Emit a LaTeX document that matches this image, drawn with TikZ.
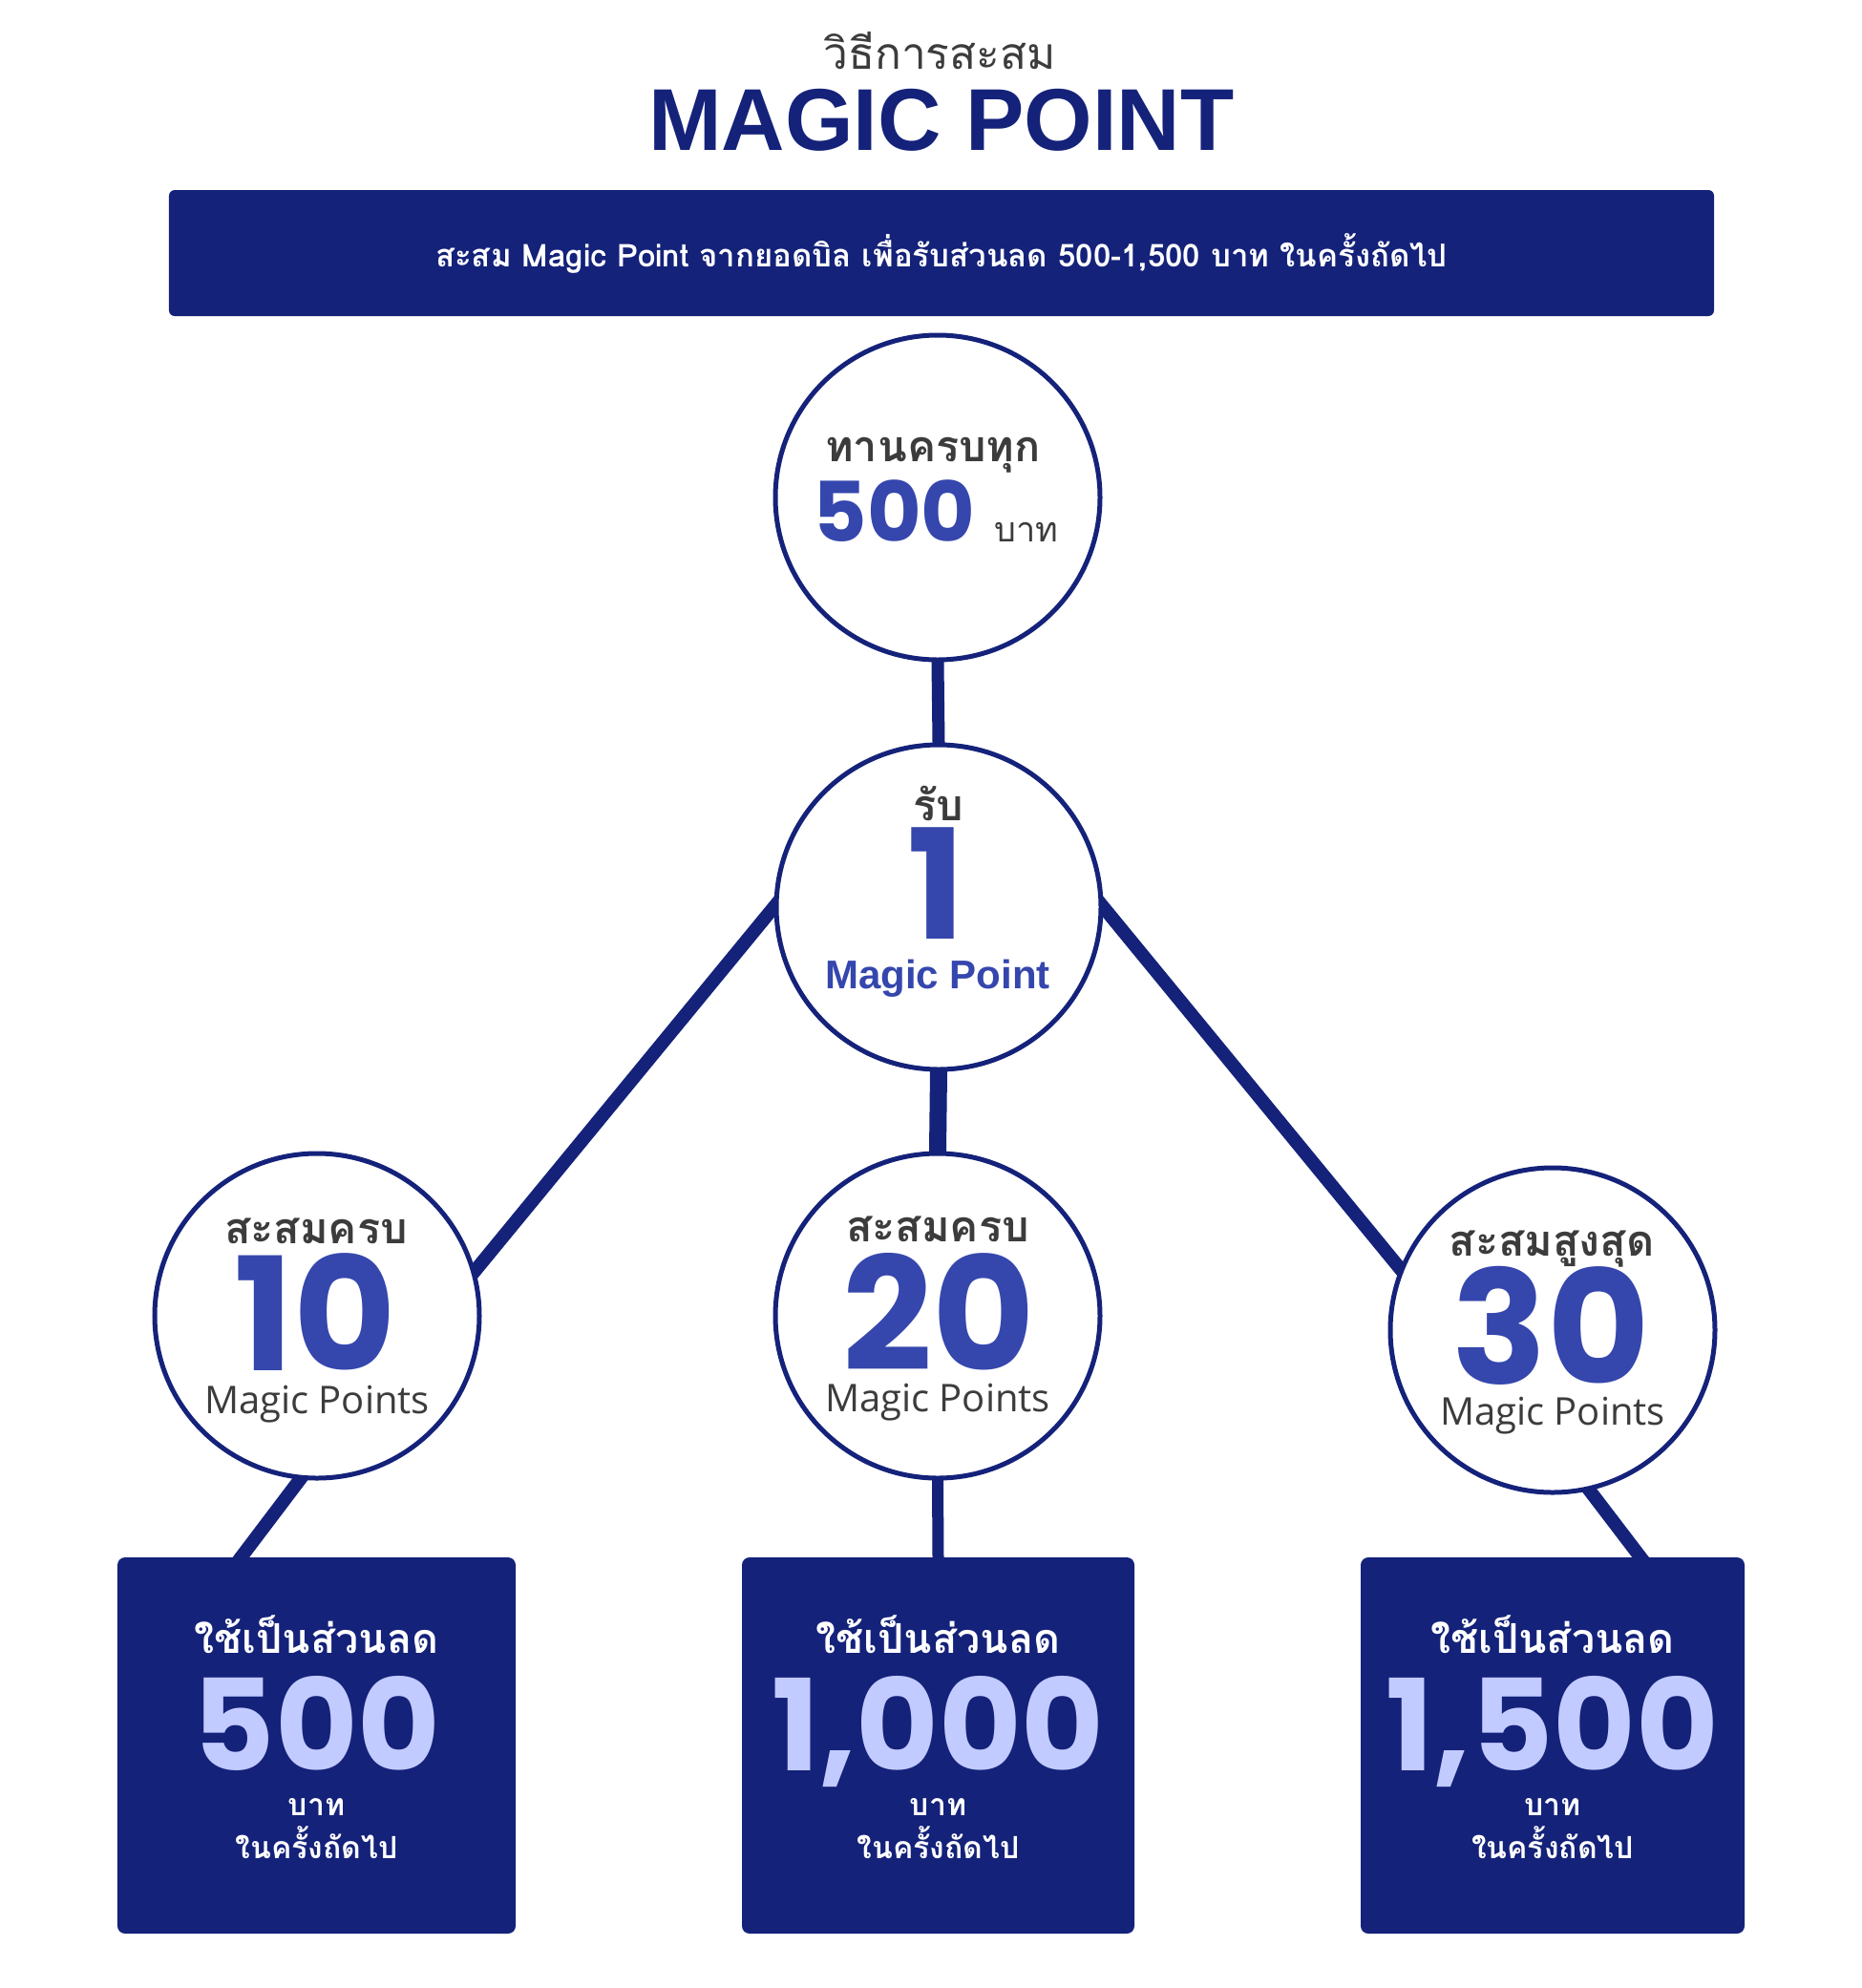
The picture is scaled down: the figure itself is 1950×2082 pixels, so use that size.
\documentclass[tikz,border=0pt]{standalone}
\usepackage{fontspec}
\usepackage{xcolor}
\setmainfont{Liberation Sans}
\newfontfamily\thaifont[Script=Thai]{Loma}
\newfontfamily\numfont{Poppins}
\newfontfamily\ptsfont{Open Sans}
\usetikzlibrary{backgrounds}
\definecolor{navy}{HTML}{14227A}
\definecolor{numblue}{HTML}{3546AD}
\definecolor{lavender}{HTML}{C2CBFF}
\definecolor{inkgrey}{HTML}{3C3C3C}
\tikzset{
  stage/.style={circle, draw=navy, line width=5bp, fill=white, minimum size=340bp, inner sep=0pt},
  reward/.style={rectangle, fill=navy, rounded corners=8bp, minimum height=394bp, inner sep=0pt},
  link/.style={draw=navy, line width=14bp},
  txt/.style={anchor=base, inner sep=0pt},
  thaihead/.style={txt, text=inkgrey, font=\thaifont\bfseries\fontsize{45bp}{50bp}\selectfont},
  bignum/.style={txt, text=numblue, text depth=0bp, font=\numfont\bfseries\fontsize{165bp}{170bp}\selectfont},
  points/.style={txt, text=inkgrey, text height=30bp, font=\ptsfont\fontsize{40bp}{44bp}\selectfont},
  boxhead/.style={txt, text=white, font=\thaifont\bfseries\fontsize{43bp}{48bp}\selectfont},
  boxnum/.style={txt, text=lavender, text depth=0bp, font=\numfont\bfseries\fontsize{133bp}{138bp}\selectfont},
  boxsmall/.style={txt, text=white, font=\thaifont\bfseries\fontsize{32bp}{36bp}\selectfont},
}
\begin{document}
\begin{tikzpicture}[x=1bp, y=-1bp]
  \useasboundingbox (0,0) rectangle (1950,2082);
  % heading
  \node[txt, text=inkgrey, font=\thaifont\fontsize{46bp}{50bp}\selectfont] (subtitle) at (984,72) {วิธีการสะสม};
  \node[txt, text=navy, font=\bfseries\fontsize{92bp}{96bp}\selectfont] (title) at (986,157) {MAGIC POINT};
  \node[rectangle, fill=navy, rounded corners=6bp, minimum width=1618bp, minimum height=132bp,
        text=white, font=\thaifont\bfseries\fontsize{33bp}{37bp}\selectfont] (banner) at (986,265)
        {สะสม Magic Point จากยอดบิล เพื่อรับส่วนลด 500-1,500 บาท ในครั้งถัดไป};
  % circles
  \node[stage] (spend) at (982,521) {};
  \node[stage] (get) at (983,950) {};
  \node[stage] (ten) at (332,1378) {};
  \node[stage] (twenty) at (982,1378) {};
  \node[stage] (thirty) at (1626,1393) {};
  % reward boxes
  \node[reward, minimum width=417bp] (save500) at (331.5,1828) {};
  \node[reward, minimum width=411bp] (save1000) at (982.5,1828) {};
  \node[reward, minimum width=402bp] (save1500) at (1626,1828) {};
  % links
  \begin{scope}[on background layer]
    \fill[white] (0,0) rectangle (1950,2082);
    \draw[link, line width=13bp, shorten <=-6bp, shorten >=-6bp] (spend.south) -- (get.north);
    \draw[link, line width=18bp, shorten <=-6bp, shorten >=-6bp] (get.south) -- (twenty.north);
    \draw[link, shorten <=-10bp, shorten >=-10bp] (get.west) -- (ten.16);
    \draw[link, shorten <=-10bp, shorten >=-10bp] (get.east) -- (thirty.158);
    \draw[link, shorten <=-10bp, shorten >=-6bp] (ten.-96) -- ([xshift=-79bp]save500.north);
    \draw[link, line width=12bp, shorten <=-6bp, shorten >=-6bp] (twenty.south) -- (save1000.north);
    \draw[link, shorten <=-10bp, shorten >=-6bp] (thirty.-77.5) -- ([xshift=92bp]save1500.north);
  \end{scope}
  % circle texts
  \node[thaihead] (spendtop) at (977,483) {ทานครบทุก};
  \node[txt, text=inkgrey] (spendnum) at (980,567)
    {{\numfont\bfseries\fontsize{87bp}{90bp}\selectfont\color{numblue}500}\hspace{20bp}{\thaifont\fontsize{36bp}{40bp}\selectfont บาท}};
  \node[thaihead] (gettop) at (983,859) {รับ};
  \node[bignum, font=\numfont\bfseries\fontsize{160bp}{165bp}\selectfont] (getnum) at (981,983) {1};
  \node[txt, text=numblue, text height=30bp, font=\bfseries\fontsize{42bp}{46bp}\selectfont] (getpts) at (982,1035) {Magic Point};
  \node[thaihead] (tentop) at (331,1302) {สะสมครบ};
  \node[bignum] (tennum) at (330,1435) {10};
  \node[points] (tenpts) at (332,1480) {Magic Points};
  \node[thaihead] (twentytop) at (982,1300) {สะสมครบ};
  \node[bignum] (twentynum) at (983,1435) {20};
  \node[points] (twentypts) at (982,1478) {Magic Points};
  \node[thaihead] (thirtytop) at (1625,1315) {สะสมสูงสุด};
  \node[bignum] (thirtynum) at (1624,1449) {30};
  \node[points] (thirtypts) at (1626,1492) {Magic Points};
  % box texts
  \foreach \bx/\amount in {save500/500, save1000/{1,000}, save1500/{1,500}} {
    \node[boxhead] at ([yshift=97bp]\bx.center) {ใช้เป็นส่วนลด};
    \node[boxnum] at ([yshift=-26bp]\bx.center) {\amount};
    \node[boxsmall] at ([yshift=-73bp]\bx.center) {บาท};
    \node[boxsmall] at ([yshift=-118bp]\bx.center) {ในครั้งถัดไป};
  }
\end{tikzpicture}
\end{document}
